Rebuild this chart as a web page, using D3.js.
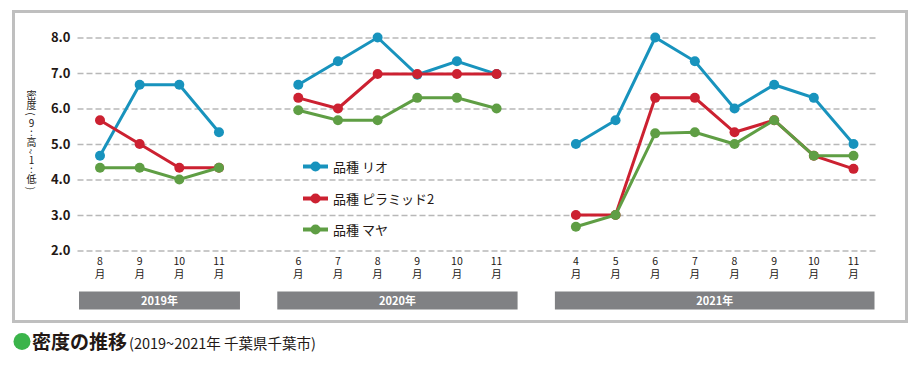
<!DOCTYPE html>
<html lang="ja">
<head>
<meta charset="UTF-8">
<title>密度の推移</title>
<script src="https://d3js.org/d3.v7.min.js"></script>
<style>
  body { margin: 0; background: #fff; }
  svg text { font-family: "Noto Sans CJK JP", "Noto Sans", sans-serif; fill: #231815; }
</style>
</head>
<body>
<div id="chart"></div>
<script>
  // years and months shown under each year block
  var years = ["2019年", "2020年", "2021年"];
  var months = [
    ["8", "9", "10", "11"],
    ["6", "7", "8", "9", "10", "11"],
    ["4", "5", "6", "7", "8", "9", "10", "11"]
  ];

  // density values per variety, one inner array per year
  var rio = [
    [4.67, 6.67, 6.67, 5.33],
    [6.67, 7.33, 8.0, 6.95, 7.33, 6.97],
    [5.0, 5.67, 8.0, 7.33, 6.0, 6.67, 6.3, 5.0]
  ];
  var pyramid = [
    [5.67, 5.0, 4.33, 4.33],
    [6.3, 6.0, 6.97, 6.97, 6.97, 6.97],
    [3.0, 3.0, 6.3, 6.3, 5.33, 5.67, 4.67, 4.3]
  ];
  var maya = [
    [4.33, 4.33, 4.0, 4.33],
    [5.95, 5.67, 5.67, 6.3, 6.3, 6.0],
    [2.67, 3.0, 5.3, 5.33, 5.0, 5.67, 4.67, 4.67]
  ];
  var seriesNames = ["品種 リオ", "品種 ピラミッド2", "品種 マヤ"];
  var yTicks = [2, 3, 4, 5, 6, 7, 8];
  var yTitle = ["密", "度", "(", "9", ":", "高", "~", "1", ":", "低", ")"];

  var width = 920, height = 367;
  var colors = ["#1893bd", "#cc2131", "#5f9e44"];

  var svg = d3.select("#chart").append("svg")
    .attr("width", width)
    .attr("height", height);

  // outer frame
  svg.append("rect")
    .attr("x", 13.5).attr("y", 11.5)
    .attr("width", 893).attr("height", 310)
    .attr("fill", "none")
    .attr("stroke", "#bfbfbf")
    .attr("stroke-width", 3);

  // slot index for each month (one empty slot between years)
  var slots = [];
  var idx = 0;
  months.forEach(function(ms) {
    slots.push(ms.map(function() { return idx++; }));
    idx++;
  });
  var lastSlot = idx - 2;

  var x = d3.scaleLinear().domain([0, lastSlot]).range([100, 853.5]);
  var y = d3.scaleLinear().domain([2, 8]).range([250.5, 37.5]);

  var gridLeft = 77.5, gridRight = 876;

  // y axis with dashed grid lines
  var yAxis = svg.append("g")
    .attr("transform", "translate(" + gridLeft + ",0)")
    .call(d3.axisLeft(y)
      .tickValues(yTicks)
      .tickFormat(d3.format(".1f"))
      .tickSizeInner(-(gridRight - gridLeft))
      .tickSizeOuter(0)
      .tickPadding(7));
  yAxis.select(".domain").remove();
  yAxis.selectAll(".tick line")
    .attr("stroke", "#b8b8b8")
    .attr("stroke-width", 1.5)
    .attr("stroke-dasharray", "6,3");
  yAxis.selectAll(".tick text")
    .attr("font-size", 13)
    .attr("font-weight", 600)
    .style("fill", "#231815");

  // y axis title, stacked one character at a time
  var cy = 94;
  yTitle.forEach(function(ch, i) {
    var wide = /[^\x00-\x7f]/.test(ch);
    if (i > 0) cy += wide || /[^\x00-\x7f]/.test(yTitle[i - 1]) ? 10 : 8.6;
    var rotate = ch === "(" || ch === ")" || ch === "~";
    svg.append("text")
      .attr("x", 31.5).attr("y", cy)
      .attr("text-anchor", "middle")
      .attr("dominant-baseline", "central")
      .attr("font-size", 10)
      .attr("transform", rotate ? "rotate(90,31.5," + cy + ")" : null)
      .text(ch);
  });

  // month labels
  months.forEach(function(ms, g) {
    ms.forEach(function(m, i) {
      var t = svg.append("text")
        .attr("text-anchor", "middle")
        .attr("font-size", 10.5);
      t.append("tspan").attr("x", x(slots[g][i])).attr("y", 265).text(m);
      t.append("tspan").attr("x", x(slots[g][i])).attr("y", 277.5).text("月");
    });
  });

  // year bars
  years.forEach(function(yr, g) {
    var x0 = x(slots[g][0]) - 21;
    var x1 = x(slots[g][slots[g].length - 1]) + 21;
    svg.append("rect")
      .attr("x", x0).attr("y", 291.5)
      .attr("width", x1 - x0).attr("height", 18)
      .attr("fill", "#808184");
    svg.append("text")
      .attr("x", (x0 + x1) / 2).attr("y", 304.5)
      .attr("text-anchor", "middle")
      .attr("font-size", 11)
      .attr("font-weight", 700)
      .style("fill", "#fff")
      .text(yr);
  });

  // lines and markers
  var line = d3.line()
    .x(function(d) { return x(d.s); })
    .y(function(d) { return y(d.v); });

  [rio, pyramid, maya].forEach(function(series, k) {
    series.forEach(function(vals, g) {
      var pts = vals.map(function(v, i) { return { s: slots[g][i], v: v }; });
      svg.append("path")
        .datum(pts)
        .attr("fill", "none")
        .attr("stroke", colors[k])
        .attr("stroke-width", 3)
        .attr("d", line);
      svg.selectAll(null)
        .data(pts)
        .enter().append("circle")
        .attr("cx", function(d) { return x(d.s); })
        .attr("cy", function(d) { return y(d.v); })
        .attr("r", 5)
        .attr("fill", colors[k]);
    });
  });

  // legend
  var legendY = [166.5, 198.5, 229.5];
  seriesNames.forEach(function(name, k) {
    var lg = svg.append("g").attr("transform", "translate(303," + legendY[k] + ")");
    lg.append("line")
      .attr("x1", 0).attr("x2", 25)
      .attr("stroke", colors[k]).attr("stroke-width", 4);
    lg.append("circle").attr("cx", 12.5).attr("r", 5).attr("fill", colors[k]);
    lg.append("text")
      .attr("x", 30).attr("y", 5)
      .attr("font-size", 13)
      .text(name);
  });

  // title
  svg.append("circle")
    .attr("cx", 22).attr("cy", 341.5).attr("r", 8.5)
    .attr("fill", "#3bb44a");
  var title = svg.append("text").attr("x", 32).attr("y", 348.5);
  title.append("tspan")
    .attr("font-size", 19).attr("font-weight", 700)
    .text("密度の推移");
  title.append("tspan")
    .attr("font-size", 14.5)
    .attr("dx", 2)
    .text("(2019~2021年 千葉県千葉市)");
</script>
</body>
</html>
